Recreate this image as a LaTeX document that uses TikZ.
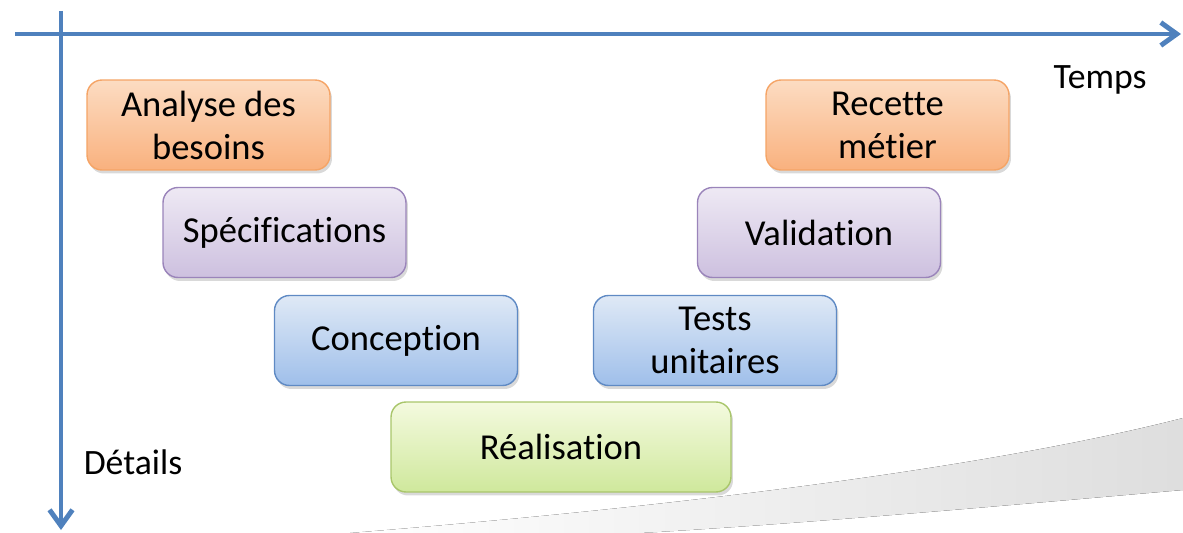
\documentclass[tikz,border=0pt]{standalone}
\usepackage{fontspec}
\setmainfont[Ligatures=NoCommon]{Carlito}
\usetikzlibrary{arrows.meta,shadows}

\definecolor{axisblue}{HTML}{4F81BD}
\definecolor{orangeline}{HTML}{F5A466}
\definecolor{orangetop}{HTML}{FCDCC2}
\definecolor{orangebot}{HTML}{F9B17E}
\definecolor{purpleline}{HTML}{9A84BA}
\definecolor{purpletop}{HTML}{EEE9F4}
\definecolor{purplebot}{HTML}{CDC0DF}
\definecolor{blueline}{HTML}{5F8AC4}
\definecolor{bluetop}{HTML}{DFE9F6}
\definecolor{bluebot}{HTML}{9FBFEA}
\definecolor{greenline}{HTML}{A9C66B}
\definecolor{greentop}{HTML}{F4FADF}
\definecolor{greenbot}{HTML}{CFE89C}

\begin{document}
\begin{tikzpicture}
		[
		x = 0.02cm, y = -0.02cm,
		phase/.style = {draw, rounded corners = 0.3cm, line width = 0.8pt,
			minimum width = 4.86cm, minimum height = 1.8cm, align = center,
			font = \fontsize{20.8}{24.5}\selectfont,
			drop shadow = {opacity = 0.3, shadow xshift = 0.04cm, shadow yshift = -0.07cm}},
		besoin/.style = {phase, draw = orangeline, top color = orangetop, bottom color = orangebot},
		specif/.style = {phase, draw = purpleline, top color = purpletop, bottom color = purplebot},
		concep/.style = {phase, draw = blueline, top color = bluetop, bottom color = bluebot},
		realis/.style = {phase, draw = greenline, top color = greentop, bottom color = greenbot},
		axis/.style = {line width = 2.8pt, draw = axisblue,
			-{Straight Barb[length = 0.32cm, width = 0.46cm]}},
		axislabel/.style = {font = \fontsize{20.3}{24}\selectfont},
		swoosh/.style = {left color = white, right color = black!13}
		]
		
		\useasboundingbox (0,0) rectangle (1183,533);
		
		\fill[swoosh] (350,533) .. controls (700,505) and (1000,465) .. (1183,418)
			-- (1183,490) .. controls (1000,506) and (800,524) .. (640,533) -- cycle;
		
		\coordinate (tstart) at (15,34);
		\coordinate (tend) at (1181,34);
		\coordinate (dstart) at (61,11);
		\coordinate (dend) at (61,530);
		\draw[axis] (tstart) -- (tend);
		\draw[axis] (dstart) -- (dend);
		
		\node[axislabel] (temps) at (1100,80) {Temps};
		\node[axislabel] (details) at (133,462) {Détails};
		
		\node[besoin] (analyse) at (208.5,125) {Analyse des\\besoins};
		\node[specif] (specs) at (284.5,232.5) {Spécifications};
		\node[concep] (conception) at (396,340.5) {Conception};
		\node[realis, minimum width = 6.8cm] (realisation) at (561,447) {Réalisation};
		\node[concep] (tests) at (715,340.5) {Tests\\unitaires};
		\node[specif] (validation) at (819,232.5) {Validation};
		\node[besoin] (recette) at (887.5,125) {Recette\\métier};
		
\end{tikzpicture}
\end{document}
